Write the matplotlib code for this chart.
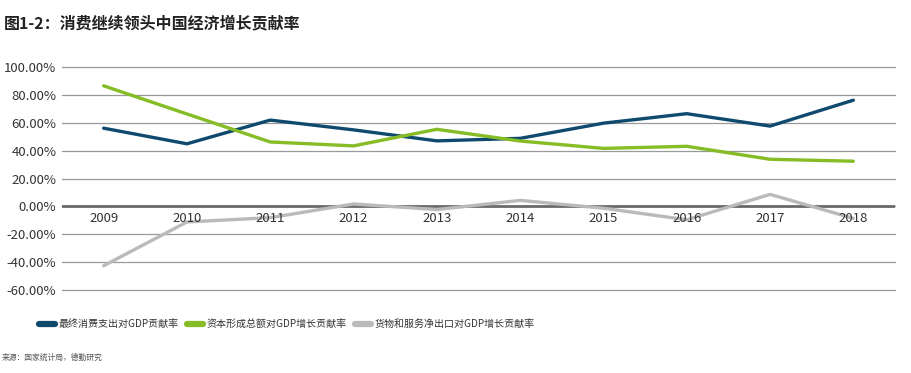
import matplotlib.pyplot as plt
from matplotlib.ticker import FuncFormatter

plt.rcParams["font.family"] = ["Noto Sans CJK SC", "DejaVu Sans"]

years = ["2009", "2010", "2011", "2012", "2013", "2014", "2015", "2016", "2017", "2018"]
consumption = [56.1, 44.9, 61.9, 54.9, 47.0, 48.8, 59.7, 66.5, 57.6, 76.2]
capital = [86.5, 66.3, 46.2, 43.4, 55.3, 46.9, 41.6, 43.1, 33.8, 32.4]
net_export = [-42.6, -11.2, -8.1, 1.7, -2.3, 4.3, -1.3, -9.6, 8.6, -8.6]

series_names = [
    "最终消费支出对GDP贡献率",
    "资本形成总额对GDP增长贡献率",
    "货物和服务净出口对GDP增长贡献率",
]
colors = ["#0f4a6e", "#86bc25", "#bababa"]

fig = plt.figure(figsize=(9.12, 3.73), dpi=100)
ax = fig.add_axes([62 / 912, 1 - 290 / 373, (895 - 62) / 912, (290 - 67) / 373])

x = range(len(years))
for vals, name, c in zip([consumption, capital, net_export], series_names, colors):
    ax.plot(x, vals, color=c, linewidth=2.4, label=name, solid_capstyle="round",
            zorder=3)

ax.set_xlim(-0.5, len(years) - 0.5)
ax.set_ylim(-60, 100)
ax.set_yticks(range(-60, 101, 20))
ax.yaxis.set_major_formatter(FuncFormatter(lambda v, p: "%.2f%%" % v))
ax.grid(True, axis="y", color="#9a9a9a", linewidth=0.9)
for gl in ax.get_ygridlines():
    gl.set_clip_on(False)
ax.axhline(0, color="#6b6b6b", linewidth=2.0, zorder=2)
for s in ax.spines.values():
    s.set_visible(False)
ax.tick_params(axis="y", length=0, pad=4, labelsize=9.5, labelcolor="#333333")

# year labels sit just under the zero line
ax.set_xticks([])
for i, yr in zip(x, years):
    ax.text(i, -4, yr, ha="center", va="top", fontsize=9.5, color="#333333")

fig.text(0.004, 0.938, "图1-2：消费继续领头中国经济增长贡献率", fontsize=11.5,
         fontweight="bold", color="#222222", va="center")

leg = fig.legend(loc="center left", bbox_to_anchor=(0.033, 1 - 324 / 373), ncol=3,
                 frameon=False, fontsize=7.2, handlelength=1.6, handletextpad=0.3,
                 columnspacing=0.9)
for line in leg.get_lines():
    line.set_linewidth(4.5)
for t in leg.get_texts():
    t.set_color("#333333")

fig.text(0.002, 1 - 358 / 373, "来源：国家统计局，德勤研究", fontsize=5.6,
         color="#555555", va="center")

fig.savefig("out.png", dpi=100)
